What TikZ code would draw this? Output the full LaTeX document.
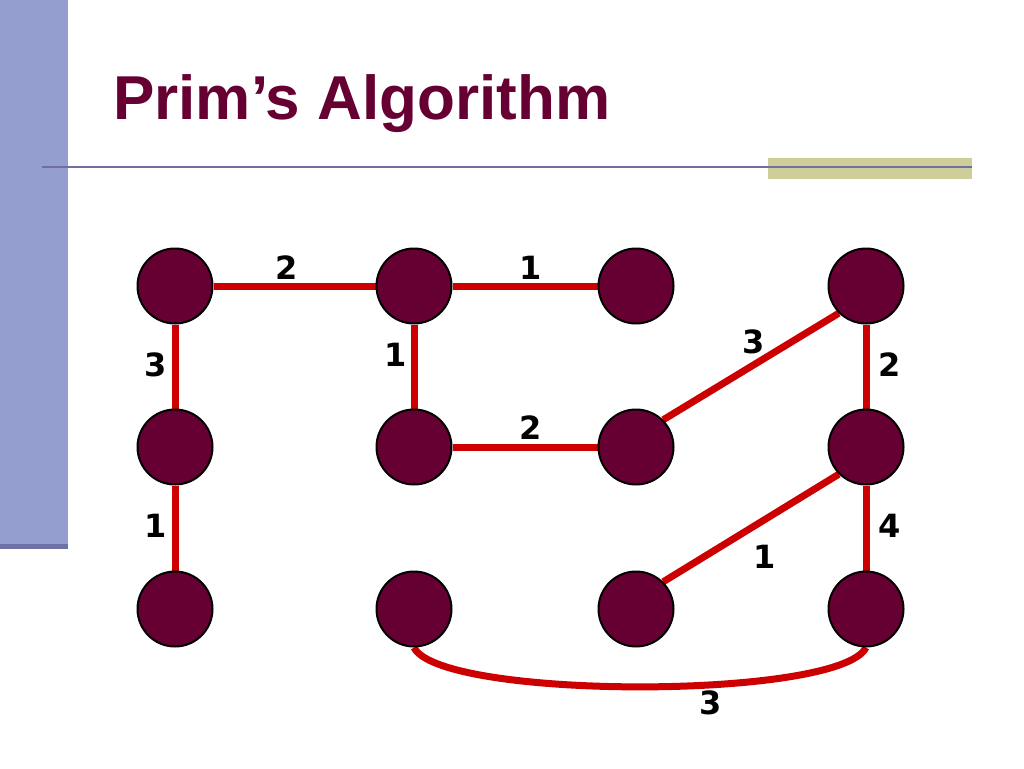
\documentclass[tikz,border=0pt]{standalone}
\usepackage{fontspec}
\setmainfont{Liberation Sans}
\newfontfamily\labfont{DejaVu Sans}
\definecolor{barblue}{HTML}{959FCF}
\definecolor{bardark}{HTML}{6D72A5}
\definecolor{rulecol}{HTML}{7070A0}
\definecolor{olive}{HTML}{CECE9B}
\definecolor{maroon}{HTML}{660033}
\definecolor{edgered}{HTML}{CC0000}
\tikzset{
  vertex/.style={circle, minimum size=75pt, inner sep=0pt, fill=maroon, draw=black, line width=2pt},
  wedge/.style={draw=edgered, line width=7pt},
  wlabel/.style={inner sep=0pt, font=\labfont\bfseries\fontsize{32}{36}\selectfont, text=black},
}
\begin{document}
\begin{tikzpicture}[x=1pt,y=-1pt]
\useasboundingbox (0,0) rectangle (1024,768);
\fill[white] (0,0) rectangle (1024,768);
% decorations
\fill[barblue] (0,0) rectangle (68,548);
\fill[bardark] (0,544) rectangle (68,549);
\fill[olive] (768,158) rectangle (972,179);
\draw[rulecol, line width=2pt] (42,167) -- (972,167);
\node[anchor=base west, inner sep=0pt, text=maroon, font=\bfseries\fontsize{62}{72}\selectfont] (title) at (113,119) {Prim’s Algorithm};
% vertex positions
\coordinate (pa1) at (175,286); \coordinate (pb1) at (414,286);
\coordinate (pc1) at (636,286); \coordinate (pd1) at (866,286);
\coordinate (pa2) at (175,447); \coordinate (pb2) at (414,447);
\coordinate (pc2) at (636,447); \coordinate (pd2) at (866,447);
\coordinate (pa3) at (175,609); \coordinate (pb3) at (414,609);
\coordinate (pc3) at (636,609); \coordinate (pd3) at (866,609);
% invisible shapes for anchors
\foreach \n in {a1,b1,c1,d1,a2,b2,c2,d2,a3,b3,c3,d3}{
  \node[vertex, draw=none, fill=none] (\n) at (p\n) {};
}
% edges
\draw[wedge] (a1) -- (b1);
\draw[wedge] (b1) -- (c1);
\draw[wedge] (a1) -- (a2);
\draw[wedge] (b1) -- (b2);
\draw[wedge] (b2) -- (c2);
\draw[wedge] (c2.north east) -- (d1.south west);
\draw[wedge] (d1) -- (d2);
\draw[wedge] (a2) -- (a3);
\draw[wedge] (d2.south west) -- (c3.north east);
\draw[wedge] (d2) -- (d3);
\draw[wedge] (b3.south) .. controls (440,700) and (840,700) .. (d3.south);
% vertices on top
\foreach \n in {a1,b1,c1,d1,a2,b2,c2,d2,a3,b3,c3,d3}{
  \node[vertex] (v\n) at (p\n) {};
}
% labels
\node[wlabel] (l1) at (287,268) {2};
\node[wlabel] (l2) at (531,268) {1};
\node[wlabel] (l3) at (156,365) {3};
\node[wlabel] (l4) at (396,355) {1};
\node[wlabel] (l5) at (531,428) {2};
\node[wlabel] (l6) at (754,342) {3};
\node[wlabel] (l7) at (890,365) {2};
\node[wlabel] (l8) at (156,526) {1};
\node[wlabel] (l9) at (765,557) {1};
\node[wlabel] (l10) at (890,526) {4};
\node[wlabel] (l11) at (711,703) {3};
\end{tikzpicture}
\end{document}
